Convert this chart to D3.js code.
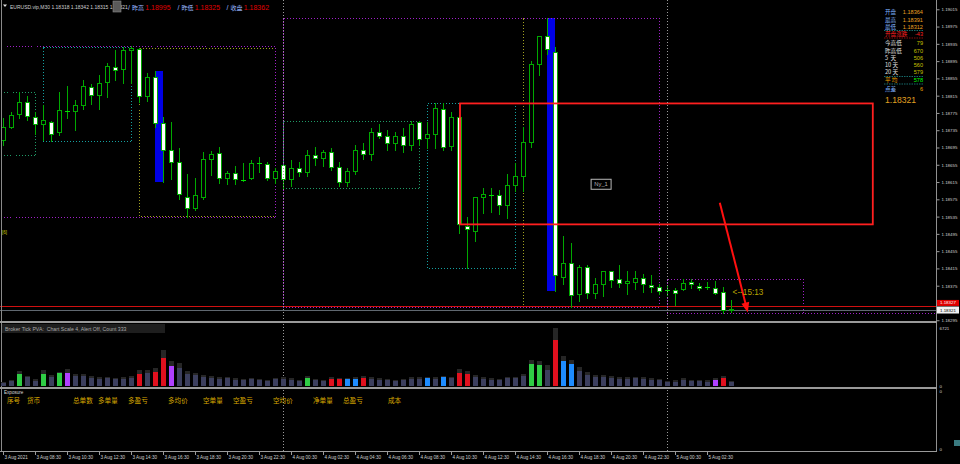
<!DOCTYPE html>
<html><head><meta charset="utf-8">
<script src="https://cdn.jsdelivr.net/npm/d3@7"></script>
<style>
html,body{margin:0;padding:0;background:#000;}
svg{display:block;}
text{font-family:"Liberation Sans","Noto Sans CJK SC",sans-serif;white-space:pre;}
.cjk{font-family:"Noto Sans CJK SC",sans-serif;}
</style></head><body>
<svg id="c" width="960" height="464"></svg>
<script>
// ---------------- DATA ----------------
const opens=[1.18712,1.18742,1.18772,1.18800,1.18765,1.18749,1.18755,1.18730,1.18780,1.18779,1.18793,1.18834,1.18816,1.18846,1.18882,1.18876,1.18920,1.18923,1.18815,1.18859,1.18751,1.18689,1.18661,1.18581,1.18554,1.18581,1.18668,1.18682,1.18624,1.18635,1.18621,1.18624,1.18658,1.18657,1.18624,1.18654,1.18622,1.18648,1.18638,1.18678,1.18670,1.18685,1.18650,1.18615,1.18640,1.18690,1.18680,1.18730,1.18722,1.18705,1.18722,1.18700,1.18755,1.18716,1.18726,1.18783,1.18698,1.18766,1.18513,1.18502,1.18581,1.18584,1.18584,1.18561,1.18608,1.18630,1.18708,1.18888,1.18954,1.18917,1.18396,1.18427,1.18355,1.18419,1.18359,1.18378,1.18408,1.18390,1.18381,1.18384,1.18392,1.18377,1.18373,1.18364,1.18364,1.18367,1.18383,1.18375,1.18372,1.18370,1.18360,1.18318];
const highs=[1.18763,1.18778,1.18823,1.18814,1.18778,1.18793,1.18756,1.18823,1.18837,1.18805,1.18851,1.18842,1.18864,1.18891,1.18921,1.18928,1.18931,1.18925,1.18867,1.18872,1.18765,1.18753,1.18693,1.18633,1.18624,1.18684,1.18687,1.18695,1.18641,1.18651,1.18658,1.18666,1.18674,1.18661,1.18648,1.18655,1.18666,1.18661,1.18690,1.18695,1.18689,1.18694,1.18661,1.18648,1.18700,1.18705,1.18740,1.18750,1.18735,1.18730,1.18740,1.18756,1.18756,1.18753,1.18797,1.18797,1.18778,1.18770,1.18535,1.18580,1.18602,1.18602,1.18597,1.18633,1.18658,1.18743,1.18895,1.18952,1.18995,1.18927,1.18489,1.18473,1.18423,1.18423,1.18392,1.18409,1.18410,1.18423,1.18408,1.18409,1.18402,1.18400,1.18378,1.18375,1.18369,1.18391,1.18391,1.18381,1.18384,1.18386,1.18373,1.18342];
const lows=[1.18701,1.18739,1.18763,1.18759,1.18726,1.18712,1.18710,1.18724,1.18763,1.18736,1.18784,1.18795,1.18784,1.18812,1.18851,1.18845,1.18845,1.18800,1.18803,1.18743,1.18616,1.18622,1.18575,1.18535,1.18550,1.18575,1.18631,1.18612,1.18610,1.18610,1.18618,1.18622,1.18639,1.18619,1.18612,1.18601,1.18606,1.18629,1.18629,1.18655,1.18652,1.18643,1.18605,1.18606,1.18633,1.18668,1.18666,1.18718,1.18690,1.18690,1.18685,1.18690,1.18701,1.18693,1.18693,1.18689,1.18689,1.18496,1.18415,1.18479,1.18543,1.18546,1.18540,1.18531,1.18595,1.18595,1.18697,1.18863,1.18911,1.18363,1.18378,1.18325,1.18340,1.18347,1.18347,1.18350,1.18373,1.18373,1.18355,1.18367,1.18360,1.18361,1.18355,1.18354,1.18330,1.18364,1.18370,1.18365,1.18367,1.18355,1.18312,1.18315];
const closes=[1.18743,1.18770,1.18800,1.18768,1.18749,1.18758,1.18726,1.18781,1.18780,1.18793,1.18837,1.18816,1.18844,1.18883,1.18874,1.18920,1.18925,1.18815,1.18858,1.18751,1.18689,1.18661,1.18587,1.18556,1.18584,1.18668,1.18679,1.18624,1.18635,1.18621,1.18620,1.18658,1.18658,1.18624,1.18640,1.18622,1.18648,1.18638,1.18678,1.18670,1.18685,1.18650,1.18615,1.18640,1.18690,1.18680,1.18730,1.18722,1.18705,1.18722,1.18700,1.18750,1.18715,1.18726,1.18786,1.18697,1.18765,1.18517,1.18506,1.18580,1.18587,1.18584,1.18561,1.18608,1.18630,1.18707,1.18888,1.18952,1.18923,1.18400,1.18428,1.18354,1.18418,1.18359,1.18378,1.18408,1.18388,1.18381,1.18386,1.18392,1.18378,1.18373,1.18362,1.18365,1.18357,1.18382,1.18378,1.18370,1.18372,1.18359,1.18318,1.18321];

const volumes=[350,545,1390,1010,615,1390,1010,1470,1510,1125,1125,930,850,930,810,850,930,1430,1510,1625,3250,2320,2090,1390,1240,1045,930,810,870,695,695,755,695,580,810,810,695,580,930,695,580,810,810,755,810,930,810,695,695,580,695,810,810,930,810,985,930,1510,1390,1045,810,695,695,930,870,1160,2550,2435,1855,5340,2900,2550,1740,1275,1045,1045,930,810,810,870,810,695,640,465,465,695,580,580,520,695,930,465];
const volumeCaps=[460,700,1775,1195,810,1820,1240,1620,1935,1390,1390,1160,1045,1080,930,1010,1160,1820,1890,2090,4140,2935,2635,1705,1510,1275,1160,985,1045,870,810,930,810,695,930,1045,870,695,1160,810,695,985,930,930,985,1160,1045,870,810,695,810,1045,985,1100,985,1160,1100,1970,1740,1275,985,870,810,1100,1045,1390,3015,2900,2435,6721,3480,3015,2205,1625,1275,1275,1160,1045,985,1045,1045,870,810,580,640,870,695,695,640,870,1160,580];
// bar indices flagged by the PVA indicator
const bullClimaxBars=[2,5,7,38,66,67];
const bearClimaxBars=[17,19,20,41,42,45,57,58,69,90];
const churnBars=[8,21,89];
const risingBars=[43,44,53,55,70,71];

const timeLabels=["3 Aug 2021","3 Aug 08:30","3 Aug 10:30","3 Aug 12:30","3 Aug 14:30","3 Aug 16:30","3 Aug 18:30","3 Aug 20:30","3 Aug 22:30","4 Aug 00:30","4 Aug 02:30","4 Aug 04:30","4 Aug 06:30","4 Aug 08:30","4 Aug 10:30","4 Aug 12:30","4 Aug 14:30","4 Aug 16:30","4 Aug 18:30","4 Aug 20:30","4 Aug 22:30","5 Aug 00:30","5 Aug 02:30"];
const priceTicks=[1.19015,1.18975,1.18935,1.18895,1.18855,1.18815,1.18775,1.18735,1.18695,1.18655,1.18615,1.18575,1.18535,1.18495,1.18455,1.18415,1.18375,1.18295];
const volumeTicks=[0,6721];
const daySeparators=[35,83];
const dayBoxes=[[-3,34,1.18931,1.18535],[35,82,1.18995,1.18325],[83,100,1.18391,1.18312]];
const sessionBoxes=[[-3,4,1.18823,1.18678],[5,16,1.18928,1.18710],[17,34,1.18925,1.18535],[35,52,1.18756,1.18601],[53,64,1.18797,1.18415],[65,82,1.18995,1.18325],[83,100,1.18391,1.18312]];
const sessionKinds=["asia","london","ny","asia","london","ny","asia"];
const impulseBars=[19,68];
const zone=[57,108.6,1.18797,1.18517];
const arrowPts=[[89.6,1.18567],[93.1,1.18313]];
const nyLabel=[74.7,1.18611,"Ny_1"];
const timerLabel=[91.2,1.18361,"<--15:13"];
const askPrice=1.18327, spread=6;
const todayLow=1.18312;
const symbolName="EURUSD.vip,M30";
const prevLabels=["昨高","昨低","收盘"];
const statLabels=["今高低","昨高低","5  天","10 天","20 天"];
const statValues=[79,670,506,560,579];
const avgRange=578;
const exposureCols=["序号","货币","总单数","多单量","多盈亏","多均价","空单量","空盈亏","空均价","净单量","总盈亏","成本"];
const indicatorTitle="Broker Tick PVA:  Chart Scale 4, Alert Off, Count 333";

// ---------------- LAYOUT ----------------
const svg=d3.select("#c");
const R=936;
const mainB=321, volB=386, volT=328;
const x=d3.scaleLinear().domain([0,116.625]).range([3,936]);
const y=d3.scaleLinear().domain([1.1829326,1.190365]).range([321,0]);
const yv=d3.scaleLinear().domain([0,6721]).range([volB,volT]);
const N=opens.length, idx=d3.range(N);
const fmt=d3.format(".5f");
const GREEN="#00a800";
const kindOf=i=>bullClimaxBars.includes(i)?"g":bearClimaxBars.includes(i)?"r":churnBars.includes(i)?"p":risingBars.includes(i)?"b":"n";

svg.append("rect").attr("width",960).attr("height",464).attr("fill","#000");
const defs=svg.append("defs");
defs.append("clipPath").attr("id","mc").append("rect").attr("x",0).attr("y",0).attr("width",R).attr("height",mainB);

const m=svg.append("g").attr("clip-path","url(#mc)").attr("shape-rendering","crispEdges");
const px=v=>Math.round(v)+0.5;

// day separators (all panels)
svg.append("g").selectAll("line").data(daySeparators).join("line")
  .attr("x1",d=>px(x(d))).attr("x2",d=>px(x(d))).attr("y1",0).attr("y2",452)
  .attr("stroke","#9a9a9a").attr("stroke-dasharray","1,2").attr("shape-rendering","crispEdges");

// blue impulse bars (behind candles)
m.selectAll("rect.imp").data(impulseBars).join("rect").attr("class","imp")
  .attr("x",i=>x(i)).attr("width",i=>x(i+1)-x(i))
  .attr("y",i=>y(highs[i])).attr("height",i=>y(lows[i+1])-y(highs[i]))
  .attr("fill","#0000e6");

// session boxes
const sessColor={asia:"#1f9a66",london:"#14a0a0",ny:"#a0a020"};
m.selectAll("rect.sess").data(sessionBoxes).join("rect").attr("class","sess")
  .attr("x",d=>px(x(d[0]))).attr("width",d=>Math.round(x(d[1])-x(d[0])))
  .attr("y",d=>px(y(d[2]))).attr("height",d=>Math.round(y(d[3])-y(d[2])))
  .attr("fill","none").attr("stroke",(d,i)=>sessColor[sessionKinds[i]]).attr("stroke-dasharray","1,2");

// day boxes
m.selectAll("rect.day").data(dayBoxes).join("rect").attr("class","day")
  .attr("x",d=>px(x(d[0]))).attr("width",d=>Math.round(x(d[1])-x(d[0])))
  .attr("y",d=>px(y(d[2]))).attr("height",d=>Math.round(y(d[3])-y(d[2])))
  .attr("fill","none").attr("stroke","#a020c8").attr("stroke-dasharray","1,2");
m.append("line").attr("x1",x(83)).attr("x2",R).attr("y1",px(y(todayLow))).attr("y2",px(y(todayLow)))
  .attr("stroke","#a020c8").attr("stroke-dasharray","1,2");

// ask & bid lines
m.append("line").attr("x1",0).attr("x2",R).attr("y1",px(y(askPrice))).attr("y2",px(y(askPrice))).attr("stroke","#d01010");
m.append("line").attr("x1",0).attr("x2",R).attr("y1",px(y(closes[N-1]))+1).attr("y2",px(y(closes[N-1]))+1).attr("stroke","#606870");

// candles
const cg=m.append("g");
cg.selectAll("line.w").data(idx).join("line")
  .attr("x1",i=>x(i)+0.5).attr("x2",i=>x(i)+0.5)
  .attr("y1",i=>Math.round(y(highs[i]))).attr("y2",i=>Math.round(y(lows[i]))+1)
  .attr("stroke",GREEN);
const isDoji=i=>Math.abs(y(opens[i])-y(closes[i]))<1;
cg.selectAll("rect.b").data(idx.filter(i=>!isDoji(i))).join("rect")
  .attr("x",i=>x(i)-1.5).attr("width",4)
  .attr("y",i=>Math.round(y(Math.max(opens[i],closes[i])))+0.5)
  .attr("height",i=>Math.max(1,Math.round(y(Math.min(opens[i],closes[i])))-Math.round(y(Math.max(opens[i],closes[i])))))
  .attr("fill",i=>closes[i]>opens[i]?"#000":"#fff").attr("stroke",GREEN);
cg.selectAll("line.d").data(idx.filter(isDoji)).join("line")
  .attr("x1",i=>x(i)-2).attr("x2",i=>x(i)+3)
  .attr("y1",i=>px(y(closes[i]))).attr("y2",i=>px(y(closes[i])))
  .attr("stroke","#00e000");

// zone rectangle
m.append("rect").attr("x",x(zone[0])+1).attr("y",y(zone[2])).attr("width",x(zone[1])-x(zone[0])).attr("height",y(zone[3])-y(zone[2]))
  .attr("fill","none").attr("stroke","#ff1f1f").attr("stroke-width",1.8).attr("shape-rendering","auto");

// arrow
const ax1=x(arrowPts[0][0]),ay1=y(arrowPts[0][1]),ax2=x(arrowPts[1][0]),ay2=y(arrowPts[1][1]);
const ang=Math.atan2(ay2-ay1,ax2-ax1);
const ag=svg.append("g").attr("clip-path","url(#mc)");
ag.append("line").attr("x1",ax1).attr("y1",ay1).attr("x2",ax2-9*Math.cos(ang)).attr("y2",ay2-9*Math.sin(ang))
  .attr("stroke","#ff1010").attr("stroke-width",2);
const hx=ax2,hy=ay2,bl=10,bw=4;
ag.append("path").attr("d",`M${hx},${hy}L${hx-bl*Math.cos(ang)+bw*Math.sin(ang)},${hy-bl*Math.sin(ang)-bw*Math.cos(ang)}L${hx-bl*Math.cos(ang)-bw*Math.sin(ang)},${hy-bl*Math.sin(ang)+bw*Math.cos(ang)}Z`).attr("fill","#ff1010");

// Ny_1 label
const nyx=x(nyLabel[0]), nyy=y(nyLabel[1]);
svg.append("rect").attr("x",nyx-9.5).attr("y",nyy-4.5).attr("width",20).attr("height",10).attr("fill","#000").attr("stroke","#b8b8b8");
svg.append("text").attr("x",nyx+0.5).attr("y",nyy+2.2).attr("text-anchor","middle").attr("font-size",5.8).attr("fill","#b0b0b0").text(nyLabel[2]);
// timer
svg.append("text").attr("x",x(timerLabel[0])).attr("y",y(timerLabel[1])+3).attr("font-size",8.2).attr("fill","#b8a400").text(timerLabel[2]);
// small marker
svg.append("text").attr("x",2).attr("y",234).attr("font-size",4.6).attr("fill","#c8c800").text("[6]");

// ---------- price axis ----------
const pa=svg.append("g").attr("transform",`translate(${R+0.5},0)`)
  .call(d3.axisRight(y).tickValues(priceTicks).tickFormat(fmt).tickSize(3).tickPadding(2));
pa.select(".domain").remove();
pa.selectAll("line").attr("stroke","#9a9a9a");
pa.selectAll("text").attr("fill","#d0d0d0").attr("font-size",4.4).attr("font-family","Liberation Sans");
const askY=y(askPrice), bidY=y(closes[N-1]);
svg.append("rect").attr("x",937).attr("y",askY-6.5).attr("width",22).attr("height",6).attr("fill","#e00000");
svg.append("text").attr("x",940).attr("y",askY-2).attr("font-size",4.4).attr("fill","#fff").text(fmt(askPrice));
svg.append("rect").attr("x",937).attr("y",bidY-2.5).attr("width",22).attr("height",7).attr("fill","#f2f2f2");
svg.append("text").attr("x",940).attr("y",bidY+2.6).attr("font-size",4.4).attr("fill","#000").text(fmt(closes[N-1]));

// ---------- frame / separators ----------
const fr=svg.append("g").attr("shape-rendering","crispEdges");
fr.append("line").attr("x1",R+0.5).attr("x2",R+0.5).attr("y1",0).attr("y2",452).attr("stroke","#909090");
fr.append("line").attr("x1",1.5).attr("x2",1.5).attr("y1",0).attr("y2",452).attr("stroke","#8a8a8a").attr("stroke-width",1.5);
fr.append("rect").attr("x",0).attr("y",321).attr("width",R+1).attr("height",2).attr("fill","#9a9a9a");
fr.append("rect").attr("x",0).attr("y",387).attr("width",R+1).attr("height",2).attr("fill","#9a9a9a");
fr.append("line").attr("x1",0).attr("x2",R+1).attr("y1",451.5).attr("y2",451.5).attr("stroke","#9a9a9a");

// ---------- volume panel ----------
const vcol={n:"#3c3f5e",g:"#2fcc45",r:"#e0101e",p:"#b040ff",b:"#1e8cff"};
const vg=svg.append("g").attr("shape-rendering","crispEdges");
vg.selectAll("rect.cap").data(idx).join("rect").attr("x",i=>x(i)-2).attr("width",5)
  .attr("y",i=>yv(volumeCaps[i])).attr("height",i=>yv(0)-yv(volumeCaps[i])).attr("fill","#262626");
vg.selectAll("rect.v").data(idx).join("rect").attr("x",i=>x(i)-2).attr("width",5)
  .attr("y",i=>yv(volumes[i])).attr("height",i=>yv(0)-yv(volumes[i])).attr("fill",i=>vcol[kindOf(i)]);
svg.append("rect").attr("x",2).attr("y",324).attr("width",163).attr("height",9).attr("fill","#1e1e1e");
svg.append("text").attr("x",5).attr("y",330.5).attr("font-size",5.2).attr("fill","#a8a8a8").text(indicatorTitle);
const va=svg.append("g").attr("transform",`translate(${R+0.5},0)`)
  .call(d3.axisRight(yv).tickValues(volumeTicks).tickFormat(d3.format("d")).tickSize(0).tickPadding(3));
va.select(".domain").remove();
va.selectAll("text").attr("fill","#d0d0d0").attr("font-size",4.4).attr("font-family","Liberation Sans");

// ---------- exposure panel ----------
const colX=[7,27,73,98,128,168,203,233,273,313,343,388];
svg.append("text").attr("x",4).attr("y",393.5).attr("font-size",4.6).attr("fill","#d8d8d8").text("Exposure");
svg.append("g").selectAll("text").data(exposureCols).join("text").attr("class","cjk")
  .attr("x",(d,i)=>colX[i]).attr("y",403).attr("font-size",6.6).attr("fill","#d8a800").text(d=>d);
const ea=d3.scaleLinear().domain([0,1]).range([449,391]);
const eax=svg.append("g").attr("transform",`translate(${R+0.5},0)`)
  .call(d3.axisRight(ea).tickValues([0,1]).tickFormat(()=>"0").tickSize(0).tickPadding(3));
eax.select(".domain").remove();
eax.selectAll("text").attr("fill","#d0d0d0").attr("font-size",4.4).attr("font-family","Liberation Sans");
svg.append("rect").attr("x",954).attr("y",440).attr("width",6).attr("height",6).attr("fill","#3a7a80");

// ---------- time axis ----------
const tIdx=timeLabels.map((d,k)=>k*4);
const ta=svg.append("g").attr("transform","translate(0,452)")
  .call(d3.axisBottom(x).tickValues(tIdx).tickFormat((d,k)=>timeLabels[k]).tickSize(3).tickPadding(1));
ta.select(".domain").remove();
ta.selectAll("line").attr("stroke","#9a9a9a");
ta.selectAll("text").attr("fill","#d0d0d0").attr("font-size",4.6).attr("text-anchor","start").attr("dx",1).attr("font-family","Liberation Sans");

// ---------- header ----------
svg.append("path").attr("d","M3,4.5L7,4.5L5,7Z").attr("fill","#e0e0e0");
svg.append("text").attr("x",10).attr("y",8.6).attr("font-size",5).attr("fill","#d0d0d0")
  .text(`${symbolName} ${fmt(opens[N-1])} ${fmt(highs[N-1])} ${fmt(lows[N-1])} ${fmt(closes[N-1])}`);
svg.append("rect").attr("x",113).attr("y",1).attr("width",8).attr("height",11).attr("fill","#5a5a5a").attr("stroke","#8a8a8a").attr("stroke-width",0.6);
const y0=35,y1=82;
const prevVals=[d3.max(highs.slice(y0,y1+1)),d3.min(lows.slice(y0,y1+1)),closes[y1]];
const hx0=[128,177.5,226.5];
prevLabels.forEach((l,k)=>{
  const t=svg.append("text").attr("x",hx0[k]).attr("y",9.6).attr("font-size",7).attr("fill","#9ab8ff");
  t.append("tspan").text("/ ");
  t.append("tspan").attr("class","cjk").attr("font-size",6).text(l+" ");
  t.append("tspan").attr("fill","#e00000").text(fmt(prevVals[k]));
});

// ---------- info panel ----------
const t0=83;
const todayHigh=d3.max(highs.slice(t0)), todayLo=d3.min(lows.slice(t0));
const ip=svg.append("g");
const LX=885, VX=923;
const row=(yy,lab,labCol,val,valCol)=>{
  ip.append("text").attr("class","cjk").attr("x",LX).attr("y",yy).attr("font-size",5.6).attr("fill",labCol).text(lab);
  ip.append("text").attr("x",VX).attr("y",yy).attr("text-anchor","end").attr("font-size",5.6).attr("fill",valCol).text(val);
};
row(14.3,"开盘","#7fb2ff",fmt(opens[t0]),"#e8a020");
row(21.6,"最高","#7fb2ff",fmt(todayHigh),"#e8a020");
row(28.6,"最低","#7fb2ff",fmt(todayLo),"#e8a020");
row(36,"开盘涨跌","#ff2020",String(Math.round((closes[N-1]-opens[t0])*1e5)),"#ff2020");
statLabels.forEach((l,k)=>row(45.3+k*7.2,l,"#e0e0e0",String(statValues[k]),"#c8c000"));
row(82,"平 均","#f0a000",String(avgRange),"#00ff00");
row(91.3,"点差","#7fb2ff",String(spread),"#f0a000");
ip.append("text").attr("x",LX).attr("y",103).attr("font-size",8.6).attr("fill","#e0a020").text(fmt(closes[N-1]));
[[30.5,"#1f9a9a"],[38,"#c01010"],[76.5,"#1f9a9a"],[84,"#1f9a9a"]].forEach(([yy,c])=>
  ip.append("line").attr("x1",LX-1).attr("x2",VX+1).attr("y1",yy).attr("y2",yy).attr("stroke",c).attr("stroke-width",0.7).attr("stroke-dasharray","1.5,1"));
</script>
</body></html>
